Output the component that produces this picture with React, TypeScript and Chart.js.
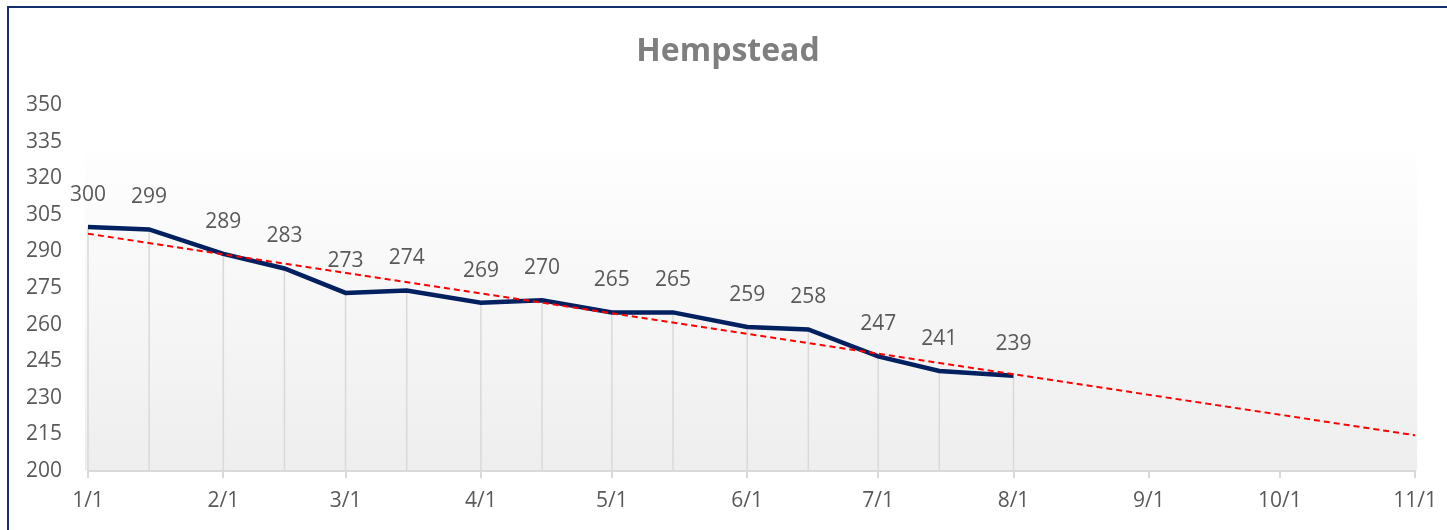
import React, { useEffect, useRef } from 'react';
import { Chart, registerables } from 'chart.js';

Chart.register(...registerables);

const YEAR = 2023;
const chartTitle = 'Hempstead';
const dates = ['1/1', '1/15', '2/1', '2/15', '3/1', '3/15', '4/1', '4/15', '5/1', '5/15', '6/1', '6/15', '7/1', '7/15', '8/1'];
const values = [300, 299, 289, 283, 273, 274, 269, 270, 265, 265, 259, 258, 247, 241, 239];
const xTickLabels = ['1/1', '2/1', '3/1', '4/1', '5/1', '6/1', '7/1', '8/1', '9/1', '10/1', '11/1'];
const yMin = 200;
const yMax = 350;
const yStep = 15;

const FONT = '"Open Sans", "DejaVu Sans", sans-serif';
const TEXT = '#595959';

function dayOf(md: string): number {
  const [m, d] = md.split('/').map(Number);
  return (Date.UTC(YEAR, m - 1, d) - Date.UTC(YEAR, 0, 1)) / 86400000;
}

export default function App() {
  const ref = useRef<HTMLCanvasElement>(null);

  useEffect(() => {
    const xs = dates.map(dayOf);
    const pts = xs.map((x, i) => ({ x, y: values[i] }));
    const tickDays = xTickLabels.map(dayOf);
    const xMin = tickDays[0];
    const xMax = tickDays[tickDays.length - 1];

    // linear trendline (least squares) from the data
    const n = xs.length;
    const mx = xs.reduce((a, b) => a + b, 0) / n;
    const my = values.reduce((a, b) => a + b, 0) / n;
    let sxy = 0, sxx = 0;
    for (let i = 0; i < n; i++) {
      sxy += (xs[i] - mx) * (values[i] - my);
      sxx += (xs[i] - mx) * (xs[i] - mx);
    }
    const slope = sxy / sxx;
    const icpt = my - slope * mx;
    const trend = [
      { x: xs[0], y: icpt + slope * xs[0] },
      { x: xMax, y: icpt + slope * xMax },
    ];

    const bgPlugin = {
      id: 'bgGrad',
      beforeDraw(chart: any) {
        const { ctx, chartArea } = chart;
        const top = chartArea.top + 47;
        const g = ctx.createLinearGradient(0, top, 0, chartArea.bottom);
        g.addColorStop(0, '#fefefe');
        g.addColorStop(1, '#eeeeee');
        ctx.save();
        ctx.fillStyle = g;
        ctx.fillRect(chartArea.left - 3, top, chartArea.right - chartArea.left + 5, chartArea.bottom - top);
        ctx.restore();
      },
    };

    const titlePlugin = {
      id: 'centeredTitle',
      afterDraw(chart: any) {
        const { ctx, width } = chart;
        ctx.save();
        ctx.fillStyle = '#7f7f7f';
        ctx.font = `bold 32px ${FONT}`;
        ctx.textAlign = 'center';
        ctx.textBaseline = 'middle';
        ctx.fillText(chartTitle, width / 2, 44);
        ctx.restore();
      },
    };

    const dropPlugin = {
      id: 'dropLines',
      beforeDatasetsDraw(chart: any) {
        const meta = chart.getDatasetMeta(0);
        const { ctx, chartArea } = chart;
        ctx.save();
        ctx.strokeStyle = '#d9d9d9';
        ctx.lineWidth = 1.5;
        meta.data.forEach((p: any) => {
          ctx.beginPath();
          ctx.moveTo(p.x, p.y);
          ctx.lineTo(p.x, chartArea.bottom);
          ctx.stroke();
        });
        ctx.restore();
      },
    };

    const labelPlugin = {
      id: 'dataLabels',
      afterDatasetsDraw(chart: any) {
        const meta = chart.getDatasetMeta(0);
        const { ctx } = chart;
        ctx.save();
        ctx.fillStyle = TEXT;
        ctx.font = `21px ${FONT}`;
        ctx.textAlign = 'center';
        ctx.textBaseline = 'middle';
        meta.data.forEach((p: any, i: number) => {
          ctx.fillText(String(values[i]), p.x, p.y - 32);
        });
        ctx.restore();
      },
    };

    const chart = new Chart(ref.current as HTMLCanvasElement, {
      type: 'line',
      data: {
        datasets: [
          {
            data: pts,
            borderColor: '#002060',
            borderWidth: 4.5,
            pointRadius: 0,
            tension: 0,
            fill: false,
            order: 1,
          },
          {
            data: trend,
            borderColor: '#ff0000',
            borderWidth: 2,
            borderDash: [6, 4],
            pointRadius: 0,
            tension: 0,
            fill: false,
            order: 0,
          },
        ],
      },
      options: {
        animation: false,
        responsive: false,
        devicePixelRatio: 1,
        layout: { padding: { left: 0, right: 31, top: 97, bottom: 0 } },
        plugins: {
          legend: { display: false },
          tooltip: { enabled: false },
          title: { display: false },
        },
        scales: {
          x: {
            type: 'linear',
            min: xMin,
            max: xMax,
            afterBuildTicks: (s: any) => {
              s.ticks = tickDays.map((v) => ({ value: v }));
            },
            afterFit: (s: any) => {
              s.height = 59;
            },
            ticks: {
              autoSkip: false,
              maxRotation: 0,
              minRotation: 0,
              color: TEXT,
              font: { family: FONT, size: 21 },
              padding: 10,
              callback: (v: any) => {
                const i = tickDays.indexOf(Number(v));
                return i >= 0 ? xTickLabels[i] : '';
              },
            },
            grid: { drawOnChartArea: false, drawTicks: true, tickLength: 7, color: '#d9d9d9', lineWidth: 2 },
            border: { display: true, color: '#d9d9d9', width: 2 },
          },
          y: {
            min: yMin,
            max: yMax,
            afterFit: (s: any) => {
              s.width = 79;
            },
            ticks: {
              stepSize: yStep,
              color: TEXT,
              font: { family: FONT, size: 21 },
              padding: 26,
            },
            grid: { display: false, drawTicks: false },
            border: { display: false },
          },
        },
      },
      plugins: [bgPlugin, dropPlugin, labelPlugin, titlePlugin],
    } as any);

    return () => chart.destroy();
  }, []);

  return (
    <div
      style={{
        position: 'fixed',
        left: 7,
        top: 6,
        right: 0,
        bottom: 0,
        borderLeft: '2px solid #14306e',
        borderTop: '2px solid #14306e',
        background: '#ffffff',
        overflow: 'hidden',
      }}
    >
      <canvas ref={ref} width={1438} height={522} style={{ display: 'block', width: 1438, height: 522 }} />
    </div>
  );
}
